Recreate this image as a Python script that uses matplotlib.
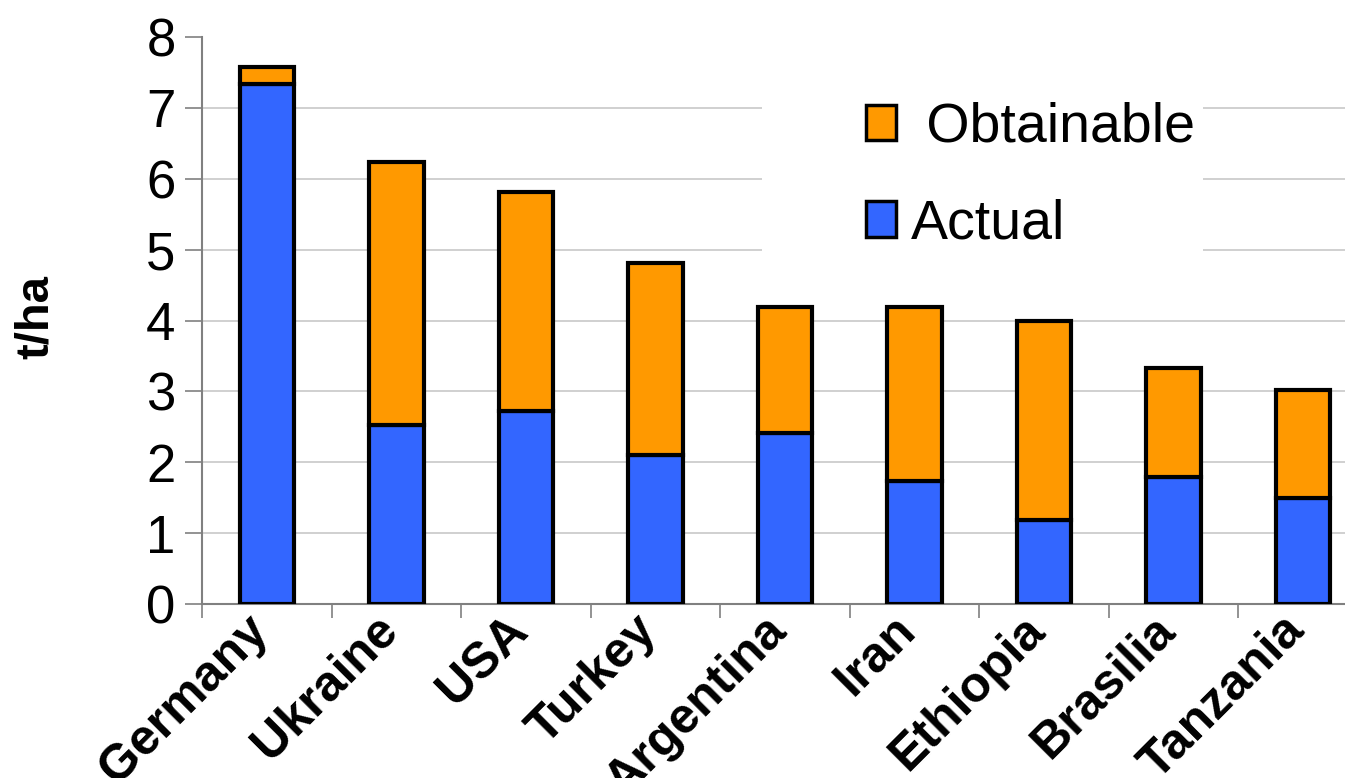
import numpy as np
import matplotlib
matplotlib.use('Agg')
import matplotlib.pyplot as plt
from matplotlib.patches import Patch, Rectangle

## data (t/ha)
countries = ['Germany', 'Ukraine', 'USA', 'Turkey', 'Argentina',
             'Iran', 'Ethiopia', 'Brasilia', 'Tanzania']
actual = [7.33, 2.53, 2.72, 2.10, 2.41, 1.73, 1.18, 1.79, 1.50]
obtainable = [7.58, 6.23, 5.81, 4.81, 4.19, 4.19, 4.00, 3.33, 3.02]

plt.rcParams['font.family'] = ['Liberation Sans', 'DejaVu Sans']

c_act = '#3366ff'
c_obt = '#ff9900'
spine_c = '#808080'

W, H = 1345, 778
fig = plt.figure(figsize=(W / 100, H / 100), dpi=100)
ax = fig.add_axes([202 / W, 1 - 604 / H, 1166 / W, 567 / H])

x = np.arange(len(countries))
gap = [o - a for o, a in zip(obtainable, actual)]
w = 0.42
ax.bar(x, actual, w, color=c_act, edgecolor='black', linewidth=3, zorder=3)
ax.bar(x, gap, w, bottom=actual, color=c_obt, edgecolor='black', linewidth=3, zorder=3)

ax.set_xlim(-0.5, len(countries) - 0.5)
ax.set_ylim(0, 8)
ax.set_yticks(range(0, 9))
ax.tick_params(axis='y', labelsize=38, length=12, width=1.2, color=spine_c, direction='out', pad=7)
ax.yaxis.grid(True, color='#c8c8c8', linewidth=1.2, zorder=0)
ax.get_ygridlines()[-1].set_visible(False)   # no line at the top
ax.set_axisbelow(True)

# category labels, tick marks between categories
ax.set_xticks(x)
ax.set_xticklabels([])
ax.set_xticks(np.arange(-0.5, len(countries), 1.0), minor=True)
ax.tick_params(axis='x', which='major', length=0)
ax.tick_params(axis='x', which='minor', length=10, width=1.2, color=spine_c, direction='out')
for xi, name in zip(x, countries):
    ax.text(xi - 0.17, -0.04, name, rotation=45, ha='right', va='top',
            rotation_mode='anchor', fontsize=36, fontweight='bold', clip_on=False)

for s in ['top', 'right']:
    ax.spines[s].set_visible(False)
for s in ['left', 'bottom']:
    ax.spines[s].set_color(spine_c)
    ax.spines[s].set_linewidth(1.5)

fig.text(36 / W, 1 - 317 / H, 't/ha', rotation=90, ha='center', va='center',
         fontsize=34, fontweight='bold')

# white area behind the legend hides the gridlines there
ax.add_patch(Rectangle((762 / W, 1 - 262 / H), 441 / W, 170 / H, transform=fig.transFigure,
                       facecolor='white', edgecolor='none', zorder=2, clip_on=False))

handles = [Patch(facecolor=c_obt, edgecolor='black', linewidth=2.5, label=' Obtainable'),
           Patch(facecolor=c_act, edgecolor='black', linewidth=2.5, label='Actual')]
leg = ax.legend(handles=handles, loc='upper left', bbox_to_anchor=(866 / W, 1 - 102 / H),
                bbox_transform=fig.transFigure, fontsize=40, frameon=False,
                handlelength=0.54, handleheight=0.6, handletextpad=0.27,
                labelspacing=0.8, borderpad=0, borderaxespad=0)
leg.set_zorder(4)

fig.savefig('out.png', dpi=100)
